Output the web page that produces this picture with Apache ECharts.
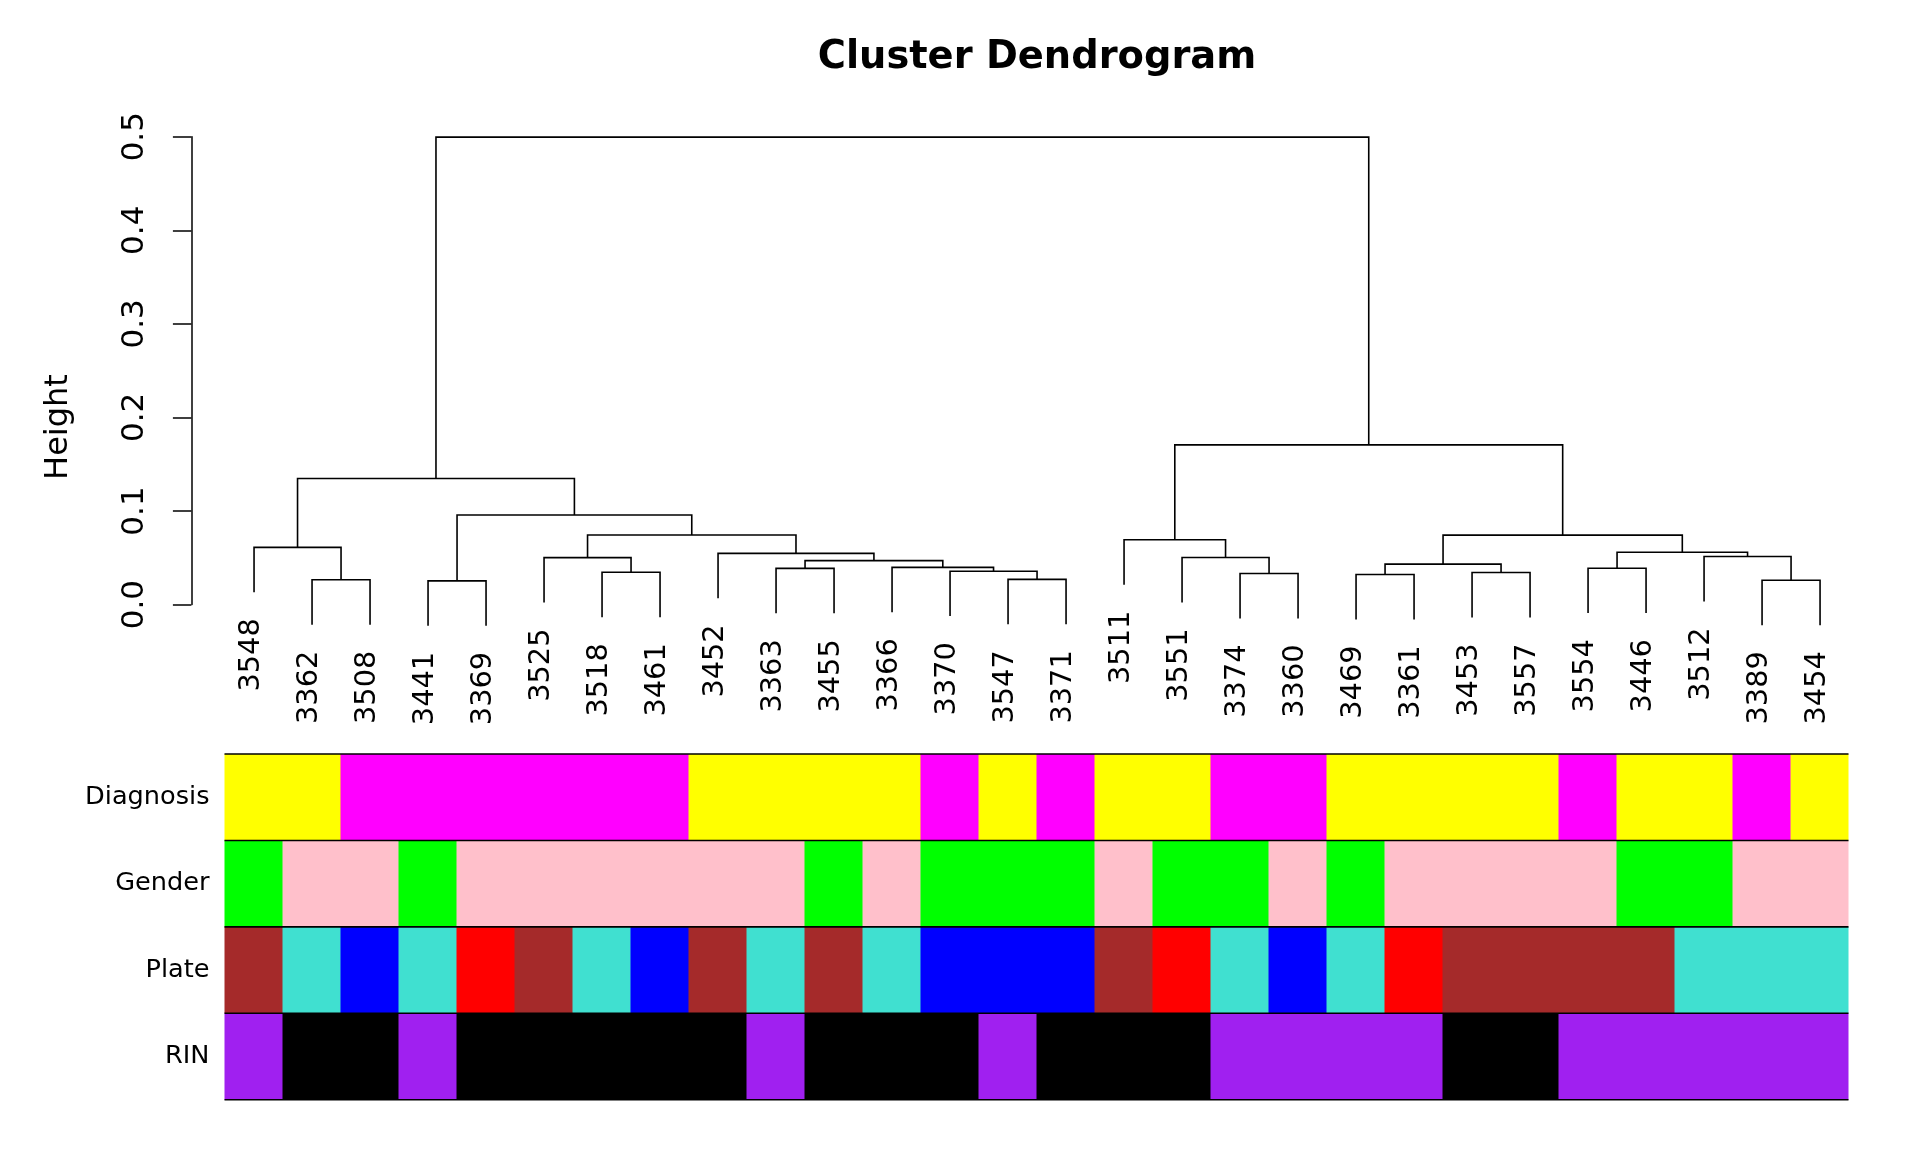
<!DOCTYPE html>
<html>
<head>
<meta charset="utf-8">
<script src="https://cdn.jsdelivr.net/npm/echarts@6/dist/echarts.min.js"></script>
<style>
html,body{margin:0;padding:0;background:#ffffff;}
#chart{width:1920px;height:1152px;}
</style>
</head>
<body>
<div id="chart"></div>
<script>
// ---- data ----
const leafLabels = ['3548','3362','3508','3441','3369','3525','3518','3461','3452','3363','3455','3366','3370','3547',
  '3371','3511','3551','3374','3360','3469','3361','3453','3557','3554','3446','3512','3389','3454'];

// hclust-style merge table: negative = leaf position (1-based, plot order), positive = earlier merge row
const mergeLeft  = [-2, -4, -7, -6, -10, -14, -13, -12, 5, -9, 4, 2, -1, 13, -18, -17, -16, -20, -22, 18, -24, -27, -26, 21, 20, 17, 14];
const mergeRight = [-3, -5, -8, 3, -11, -15, 6, 7, 8, 9, 10, 11, 1, 12, -19, 15, 16, -21, -23, 19, -25, -28, 22, 23, 24, 25, 26];
const mergeHeight = [0.0265, 0.0253, 0.0345, 0.0502, 0.0387, 0.0270, 0.0357, 0.0398, 0.0470, 0.0547, 0.0743, 0.0957,
  0.0612, 0.1347, 0.0332, 0.0503, 0.0693, 0.0321, 0.0343, 0.0432, 0.0389, 0.0260, 0.0514, 0.0560, 0.0742, 0.1707, 0.4995];
const hang = 0.048;   // how far leaves hang below their merge

const rowNames = ['Diagnosis', 'Gender', 'Plate', 'RIN'];
const diagnosisColors = ['yellow','yellow','magenta','magenta','magenta','magenta','magenta','magenta','yellow','yellow',
  'yellow','yellow','magenta','yellow','magenta','yellow','yellow','magenta','magenta','yellow','yellow','yellow','yellow',
  'magenta','yellow','yellow','magenta','yellow'];
const genderColors = ['green','pink','pink','green','pink','pink','pink','pink','pink','pink','green','pink','green','green',
  'green','pink','green','green','pink','green','pink','pink','pink','pink','green','green','pink','pink'];
const plateColors = ['brown','turquoise','blue','turquoise','red','brown','turquoise','blue','brown','turquoise','brown',
  'turquoise','blue','blue','blue','brown','red','turquoise','blue','turquoise','red','brown','brown','brown','brown',
  'turquoise','turquoise','turquoise'];
const rinColors = ['purple','black','black','purple','black','black','black','black','black','purple','black','black',
  'black','purple','black','black','black','purple','purple','purple','purple','black','black','purple','purple','purple',
  'purple','purple'];

const yMin = 0, yMax = 0.5, yStep = 0.1;

// R colour names -> hex
const rColors = {yellow:'#FFFF00', magenta:'#FF00FF', green:'#00FF00', pink:'#FFC0CB', brown:'#A52A2A',
  turquoise:'#40E0D0', blue:'#0000FF', red:'#FF0000', purple:'#A020F0', black:'#000000'};

// ---- build dendrogram geometry in data units ----
const nLeaf = leafLabels.length;
const nodeX = [];
const leafEnd = new Array(nLeaf).fill(0);
const segments = [];
for (let i = 0; i < mergeHeight.length; i++) {
  const h = mergeHeight[i];
  const kids = [mergeLeft[i], mergeRight[i]].map(c => {
    if (c < 0) { leafEnd[-c - 1] = h - hang; return [-c, h - hang]; }
    return [nodeX[c - 1], mergeHeight[c - 1]];
  });
  nodeX[i] = (kids[0][0] + kids[1][0]) / 2;
  segments.push([[kids[0][0], kids[0][1]], [kids[0][0], h], [kids[1][0], h], [kids[1][0], kids[1][1]]]);
}

const colorRows = [diagnosisColors, genderColors, plateColors, rinColors];
const cells = [];
colorRows.forEach((row, r) => row.forEach((c, i) => cells.push([i, r])));

const FONT = '"DejaVu Sans", "Liberation Sans", sans-serif';
const chart = echarts.init(document.getElementById('chart'), null, {renderer: 'canvas'});

chart.setOption({
  animation: false,
  backgroundColor: '#ffffff',
  graphic: [
    {type: 'text', x: 1037, y: 58.5, silent: true,
      style: {text: 'Cluster Dendrogram', font: 'bold 38.4px ' + FONT, fill: '#000', align: 'center', verticalAlign: 'middle'}},
    {type: 'text', x: 58.5, y: 427, rotation: Math.PI / 2, silent: true,
      style: {text: 'Height', font: '32px ' + FONT, fill: '#000', align: 'center', verticalAlign: 'middle'}}
  ],
  grid: [
    {left: 191.4, top: 136.7, width: 1691.3, height: 467.9, outerBoundsMode: 'none', containLabel: false},
    {left: 224.5, top: 754, width: 1624, height: 345.7, outerBoundsMode: 'none', containLabel: false}
  ],
  xAxis: [
    {gridIndex: 0, type: 'value', min: -0.08, max: nLeaf + 1.08, show: false},
    {gridIndex: 1, type: 'category', data: leafLabels, show: false}
  ],
  yAxis: [
    {gridIndex: 0, type: 'value', min: yMin, max: yMax, interval: yStep,
      axisLine: {show: true, onZero: false, lineStyle: {color: '#000', width: 1.5}},
      axisTick: {show: true, length: 18.5, lineStyle: {color: '#000', width: 1.5}},
      splitLine: {show: false},
      axisLabel: {show: true, rotate: 90, margin: 56.8, align: 'center', verticalAlign: 'middle',
        color: '#000', fontSize: 31, fontFamily: FONT, formatter: v => v.toFixed(1)}},
    {gridIndex: 1, type: 'category', data: rowNames, inverse: true,
      axisLine: {show: false}, axisTick: {show: false}, splitLine: {show: false},
      axisLabel: {show: true, margin: 15, color: '#000', fontSize: 25.6, fontFamily: FONT}}
  ],
  series: [
    {
      name: 'dendrogram', type: 'custom', xAxisIndex: 0, yAxisIndex: 0, clip: false, silent: true,
      data: mergeHeight.map((h, i) => [nodeX[i], h]),
      renderItem: (params, api) => {
        const pts = segments[params.dataIndex].map(p => api.coord(p));
        return {type: 'polyline', shape: {points: pts}, style: {stroke: '#000', lineWidth: 1.6, fill: 'none'}};
      }
    },
    {
      name: 'leafLabels', type: 'custom', xAxisIndex: 0, yAxisIndex: 0, clip: false, silent: true,
      data: leafLabels.map((l, i) => [i + 1, leafEnd[i]]),
      renderItem: (params, api) => {
        const p = api.coord([api.value(0), api.value(1)]);
        return {type: 'text', x: p[0] - 3, y: p[1] + 26, rotation: Math.PI / 2,
          style: {text: leafLabels[params.dataIndex], fill: '#000', font: '28.8px ' + FONT,
            align: 'right', verticalAlign: 'middle'}};
      }
    },
    {
      name: 'colorBars', type: 'custom', xAxisIndex: 1, yAxisIndex: 1, silent: true,
      data: cells,
      renderItem: (params, api) => {
        const col = api.value(0), row = api.value(1);
        const c = api.coord([col, row]);
        const s = api.size([1, 1]);
        const fill = rColors[colorRows[row][col]];
        const last = col === colorRows[row].length - 1;
        return {type: 'rect', shape: {x: c[0] - s[0] / 2, y: c[1] - s[1] / 2, width: s[0] + (last ? 0 : 1), height: s[1]},
          style: {fill: fill}};
      }
    },
    {
      name: 'rowBorders', type: 'custom', xAxisIndex: 1, yAxisIndex: 1, silent: true, z: 5,
      data: rowNames.concat(['end']).map((n, k) => [0, k]),
      renderItem: (params, api) => {
        const cs = params.coordSys;
        const y = cs.y + cs.height * params.dataIndex / rowNames.length;
        return {type: 'line', shape: {x1: cs.x, y1: y, x2: cs.x + cs.width, y2: y},
          style: {stroke: '#000', lineWidth: 1.6}};
      }
    }
  ]
});
</script>
</body>
</html>
